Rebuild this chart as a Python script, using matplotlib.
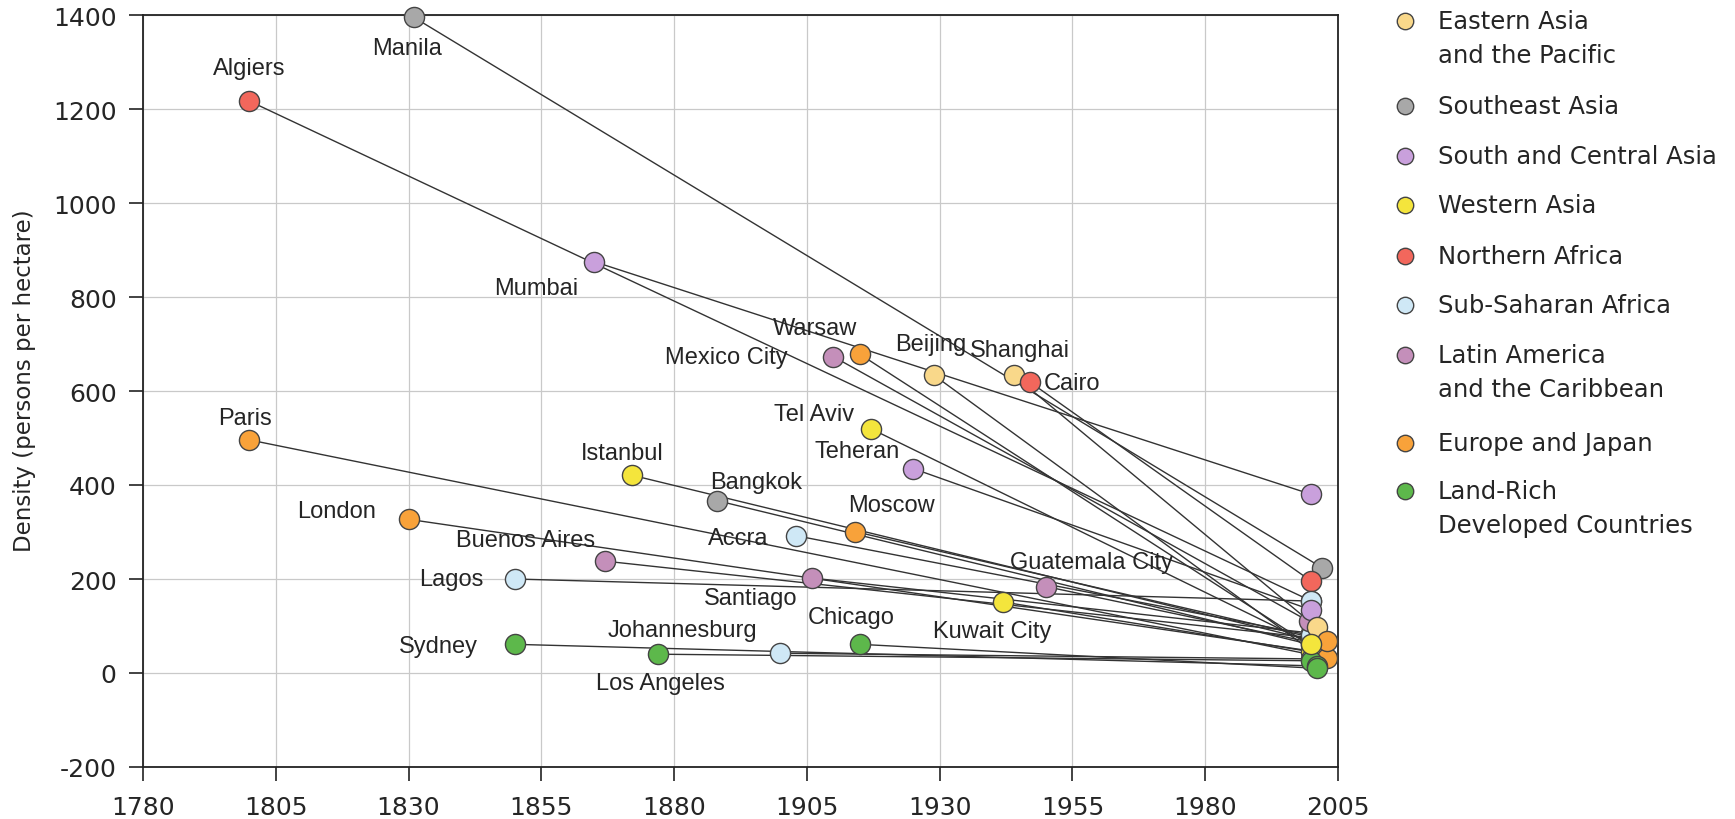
import matplotlib
matplotlib.use("Agg")
import matplotlib.pyplot as plt

plt.rcParams["axes.unicode_minus"] = False

# ---------------- data ----------------
cities = ["Manila", "Algiers", "Mumbai", "Paris", "London", "Istanbul", "Bangkok",
          "Buenos Aires", "Lagos", "Sydney", "Los Angeles", "Johannesburg", "Chicago",
          "Accra", "Moscow", "Santiago", "Mexico City", "Warsaw", "Beijing", "Tel Aviv",
          "Teheran", "Shanghai", "Cairo", "Guatemala City", "Kuwait City"]
regions = ["Southeast Asia", "Northern Africa", "South and Central Asia", "Europe and Japan",
           "Europe and Japan", "Western Asia", "Southeast Asia",
           "Latin America", "Sub-Saharan Africa", "Land-Rich", "Land-Rich", "Sub-Saharan Africa",
           "Land-Rich", "Sub-Saharan Africa", "Europe and Japan", "Latin America", "Latin America",
           "Europe and Japan", "Eastern Asia", "Western Asia", "South and Central Asia",
           "Eastern Asia", "Northern Africa", "Latin America", "Western Asia"]
year_start = [1831, 1800, 1865, 1800, 1830, 1872, 1888, 1867, 1850, 1850, 1877, 1900, 1915,
              1903, 1914, 1906, 1910, 1915, 1929, 1917, 1925, 1944, 1947, 1950, 1942]
dens_start = [1395, 1217, 875, 496, 327, 421, 367, 238, 200, 61, 40, 42, 61,
              292, 301, 202, 673, 678, 633, 520, 435, 633, 619, 184, 151]
year_end = [2002, 2000, 2000, 2003, 2001, 2000, 2000, 2000, 2000, 2001, 2000, 2000, 2001,
            2000, 2003, 2000, 1999.5, 2001, 2001.5, 2000, 2000, 2001, 2000, 2000, 2000]
dens_end = [224, 153, 380, 32, 45, 70, 60, 75, 153, 15, 26, 30, 10,
            80, 68, 85, 110, 50, 35, 61, 134, 97, 195, 65, 45]

legend_keys = ["Eastern Asia", "Southeast Asia", "South and Central Asia", "Western Asia",
               "Northern Africa", "Sub-Saharan Africa", "Latin America", "Europe and Japan",
               "Land-Rich"]
legend_labels = [["Eastern Asia", "and the Pacific"], ["Southeast Asia"],
                 ["South and Central Asia"], ["Western Asia"], ["Northern Africa"],
                 ["Sub-Saharan Africa"], ["Latin America", "and the Caribbean"],
                 ["Europe and Japan"], ["Land-Rich", "Developed Countries"]]
region_colors = {
    "Eastern Asia": "#f9d88a",
    "Southeast Asia": "#a8a8a8",
    "South and Central Asia": "#c9a0dc",
    "Western Asia": "#f4e53c",
    "Northern Africa": "#f2675c",
    "Sub-Saharan Africa": "#cfe8f6",
    "Latin America": "#c48fba",
    "Europe and Japan": "#f8a23a",
    "Land-Rich": "#5db84b",
}

# drawing order of the 2000-era end points (bottom first)
end_draw_order = ["Bangkok", "Istanbul", "Kuwait City", "Buenos Aires", "Santiago",
                  "Guatemala City", "Accra", "Warsaw", "London", "Johannesburg", "Algiers",
                  "Manila", "Cairo", "Lagos", "Mexico City", "Teheran", "Shanghai", "Beijing",
                  "Paris", "Moscow", "Los Angeles", "Sydney", "Chicago", "Tel Aviv", "Mumbai"]

# label offsets in pixels (dx, dy, ha); dy positive = up
label_pos = {
    "Manila": (-7, -31, "center"), "Algiers": (0, 33, "center"), "Mumbai": (-58, -26, "center"),
    "Paris": (-4, 22, "center"), "London": (-33, 8, "right"), "Istanbul": (-9, 22, "center"),
    "Bangkok": (40, 19, "center"), "Buenos Aires": (-80, 21, "center"), "Lagos": (-31, 0, "right"),
    "Sydney": (-37, -2, "right"), "Los Angeles": (2, -29, "center"),
    "Johannesburg": (-98, 23, "center"), "Chicago": (-9, 27, "center"),
    "Accra": (-28, -2, "right"), "Moscow": (37, 27, "center"), "Santiago": (-62, -20, "center"),
    "Mexico City": (-46, 0, "right"), "Warsaw": (-45, 26, "center"), "Beijing": (-4, 31, "center"),
    "Tel Aviv": (-57, 15, "center"), "Teheran": (-56, 18, "center"), "Shanghai": (6, 25, "center"),
    "Cairo": (14, -1, "left"), "Guatemala City": (46, 25, "center"),
    "Kuwait City": (-11, -29, "center"),
}

W, H = 1735, 820
fig = plt.figure(figsize=(W / 100, H / 100), dpi=100)
ax = fig.add_axes([143 / W, 52 / H, (1338 - 143) / W, (768 - 16) / H])

font = ["DejaVu Sans"]
city_font = ["Liberation Sans", "DejaVu Sans"]
txt_color = "#252525"

ax.set_xlim(1780, 2005)
ax.set_ylim(-200, 1400)
ax.set_xticks(range(1780, 2006, 25))
ax.set_yticks(range(-200, 1401, 200))
ax.grid(True, color="#c9c9c9", linewidth=0.9)
ax.set_axisbelow(True)
for sp in ax.spines.values():
    sp.set_color("#222222")
    sp.set_linewidth(1.3)
ax.tick_params(axis="both", direction="out", length=10, width=1.2, color="#222222",
               labelsize=18, labelcolor=txt_color)
ax.tick_params(axis="y", pad=9)
ax.tick_params(axis="x", pad=10)
for lab in ax.get_xticklabels() + ax.get_yticklabels():
    lab.set_fontfamily(font)
ax.set_ylabel("Density (persons per hectare)", fontsize=16.5, color=txt_color, family=font)
ax.yaxis.set_label_coords((36 - 143) / (1338 - 143), 0.515)

# connecting lines
for i in range(len(cities)):
    ax.plot([year_start[i], year_end[i]], [dens_start[i], dens_end[i]],
            color="#333333", linewidth=1.0, zorder=2)

# end points
for k, name in enumerate(end_draw_order):
    i = cities.index(name)
    ax.scatter(year_end[i], dens_end[i], s=210, color=region_colors[regions[i]],
               edgecolor="#444444", linewidth=1.0, zorder=3 + k * 0.01, clip_on=False)

# start points and labels
for i in range(len(cities)):
    ax.scatter(year_start[i], dens_start[i], s=210, color=region_colors[regions[i]],
               edgecolor="#444444", linewidth=1.0, zorder=4, clip_on=False)
    dx, dy, ha = label_pos[cities[i]]
    ax.annotate(cities[i], (year_start[i], dens_start[i]), xytext=(dx, dy),
                textcoords="offset pixels", ha=ha, va="center", fontsize=17,
                color=txt_color, family=city_font, zorder=5)

# legend, drawn in figure pixel coordinates
lax = fig.add_axes([0, 0, 1, 1], zorder=10)
lax.set_xlim(0, W)
lax.set_ylim(H, 0)
lax.axis("off")
row_y = [22, 107, 157, 206, 257, 306, 356, 444, 492]
for key, lines, y in zip(legend_keys, legend_labels, row_y):
    lax.scatter(1405, y, s=140, color=region_colors[key], edgecolor="#444444", linewidth=1.0)
    for j, line in enumerate(lines):
        lax.text(1438, y + 34 * j, line, ha="left", va="center", fontsize=17.5,
                 color=txt_color, family=font)

fig.savefig("out.png", dpi=100)
